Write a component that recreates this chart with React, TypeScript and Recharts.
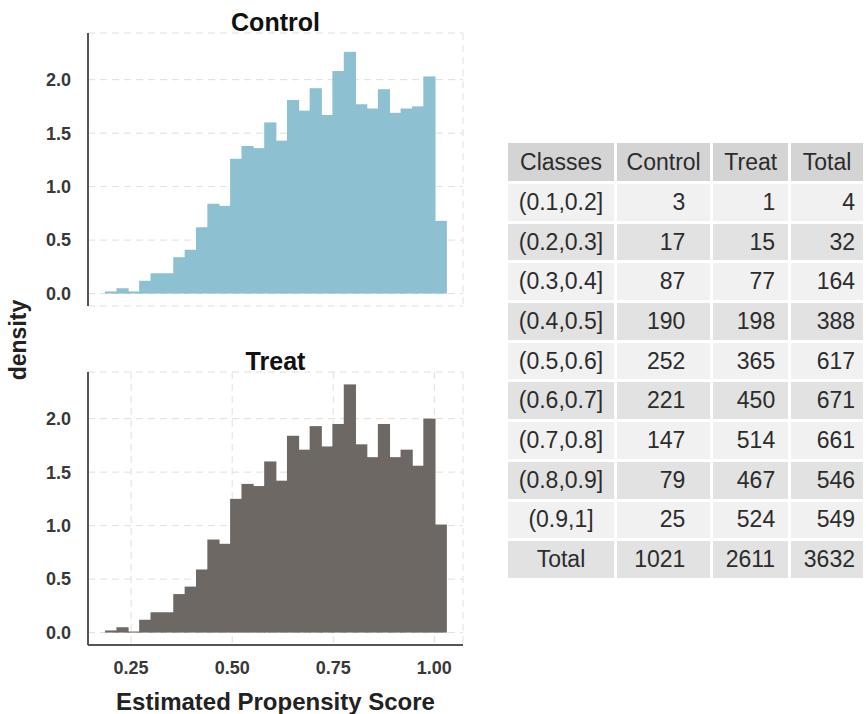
import React from "react";
import { BarChart, Bar, XAxis, YAxis, CartesianGrid } from "recharts";

// histogram bins (30 bins, midpoints on the propensity score scale)
const binMid = [
  0.1996, 0.2277, 0.2558, 0.2839, 0.312, 0.3402, 0.3683, 0.3964, 0.4245, 0.4526,
  0.4807, 0.5089, 0.537, 0.5651, 0.5932, 0.6213, 0.6495, 0.6776, 0.7057, 0.7338,
  0.7619, 0.7901, 0.8182, 0.8463, 0.8744, 0.9025, 0.9306, 0.9588, 0.9869, 1.015,
];

const controlDensity = [
  0.02, 0.05, 0.02, 0.12, 0.19, 0.19, 0.34, 0.41, 0.62, 0.84,
  0.82, 1.26, 1.38, 1.36, 1.6, 1.43, 1.81, 1.71, 1.92, 1.67,
  2.08, 2.26, 1.77, 1.73, 1.91, 1.69, 1.73, 1.75, 2.03, 0.68,
];

const treatDensity = [
  0.02, 0.05, 0.01, 0.12, 0.19, 0.19, 0.36, 0.43, 0.59, 0.87,
  0.83, 1.25, 1.39, 1.37, 1.6, 1.42, 1.84, 1.71, 1.93, 1.74,
  1.95, 2.32, 1.76, 1.64, 1.95, 1.64, 1.71, 1.56, 2.0, 1.01,
];

const xTicks = [0.25, 0.5, 0.75, 1.0];
const yTicks = [0, 0.5, 1.0, 1.5, 2.0];

// class table
const classes = [
  "(0.1,0.2]", "(0.2,0.3]", "(0.3,0.4]", "(0.4,0.5]", "(0.5,0.6]",
  "(0.6,0.7]", "(0.7,0.8]", "(0.8,0.9]", "(0.9,1]", "Total",
];
const controlCounts = [3, 17, 87, 190, 252, 221, 147, 79, 25, 1021];
const treatCounts = [1, 15, 77, 198, 365, 450, 514, 467, 524, 2611];
const totalCounts = [4, 32, 164, 388, 617, 671, 661, 546, 549, 3632];
const tableHeader = ["Classes", "Control", "Treat", "Total"];

const FONT = "'Liberation Sans', Arial, Helvetica, sans-serif";
const AXIS_TEXT = { fontSize: 18, fontWeight: 700, fill: "#383838", fontFamily: FONT };

// bars widened a little so neighbouring bins don't leave hairline seams
const solidBar = (fill: string) => (p: any) => (
  <rect
    x={p.x}
    y={p.y}
    width={Math.max(p.width + 1.2, 0)}
    height={Math.max(p.height, 0)}
    fill={fill}
  />
);

interface HistProps {
  values: number[];
  fill: string;
  height: number;
  top: number;
  showXAxis?: boolean;
}

function Histogram({ values, fill, height, top, showXAxis }: HistProps) {
  const data = binMid.map((x, i) => ({ x, density: values[i] }));
  return (
    <BarChart
      width={470}
      height={height}
      data={data}
      barCategoryGap={0}
      barGap={0}
      margin={{ top, right: 7, left: 0, bottom: showXAxis ? 0 : 4 }}
    >
      <CartesianGrid stroke="#e3dddd" strokeDasharray="7 5" />
      <XAxis
        dataKey="x"
        type="number"
        domain={[0.1433, 1.071]}
        allowDataOverflow
        ticks={xTicks}
        tickFormatter={(v: number) => v.toFixed(2)}
        height={showXAxis ? 35 : 0}
        tick={showXAxis ? AXIS_TEXT : false}
        fontSize={18}
        fontWeight={700}
        fontFamily={FONT}
        tickSize={0}
        tickMargin={16}
        axisLine={showXAxis ? { stroke: "#555", strokeWidth: 2 } : false}
      />
      <YAxis
        type="number"
        domain={[-0.116, 2.436]}
        allowDataOverflow
        ticks={yTicks}
        tickFormatter={(v: number) => v.toFixed(1)}
        width={88}
        tick={AXIS_TEXT}
        fontSize={18}
        fontWeight={700}
        fontFamily={FONT}
        tickSize={0}
        tickMargin={17}
        axisLine={{ stroke: "#555", strokeWidth: 2 }}
      />
      <Bar dataKey="density" fill={fill} shape={solidBar(fill)} isAnimationActive={false} />
    </BarChart>
  );
}

const cellBase: React.CSSProperties = {
  padding: 0,
  fontSize: 23,
  color: "#2c2c2c",
  fontFamily: FONT,
  height: 36.7,
};

const colWidths = [108, 95, 76, 73];
const numPad = [0, 25, 13, 8];

function CountsTable() {
  return (
    <table
      style={{
        position: "absolute",
        left: 505,
        top: 140,
        borderCollapse: "separate",
        borderSpacing: 3,
        tableLayout: "fixed",
      }}
    >
      <thead>
        <tr>
          {tableHeader.map((h, i) => (
            <th
              key={h}
              style={{
                ...cellBase,
                height: 38,
                width: colWidths[i],
                background: "#d4d4d4",
                fontWeight: 400,
                textAlign: "center",
              }}
            >
              {h}
            </th>
          ))}
        </tr>
      </thead>
      <tbody>
        {classes.map((c, r) => {
          const bg = r % 2 === 0 ? "#f1f1f1" : "#e2e2e2";
          const nums = [controlCounts[r], treatCounts[r], totalCounts[r]];
          return (
            <tr key={c}>
              <td style={{ ...cellBase, background: bg, textAlign: "center" }}>{c}</td>
              {nums.map((n, j) => (
                <td
                  key={j}
                  style={{
                    ...cellBase,
                    background: bg,
                    textAlign: "right",
                    paddingRight: numPad[j + 1],
                  }}
                >
                  {n}
                </td>
              ))}
            </tr>
          );
        })}
      </tbody>
    </table>
  );
}

const titleStyle: React.CSSProperties = {
  position: "absolute",
  left: 88,
  width: 375,
  textAlign: "center",
  fontFamily: FONT,
  fontWeight: 700,
  fontSize: 25,
  color: "#111",
  lineHeight: "25px",
};

export default function App() {
  return (
    <div
      style={{
        position: "absolute",
        left: 0,
        top: 0,
        width: 866,
        height: 714,
        overflow: "hidden",
        background: "#fff",
      }}
    >
      <div style={{ ...titleStyle, top: 10 }}>Control</div>
      <div style={{ position: "absolute", left: 0, top: 0 }}>
        <Histogram values={controlDensity} fill="#8dc1d1" height={310} top={33} />
      </div>

      <div style={{ ...titleStyle, top: 349 }}>Treat</div>
      <div style={{ position: "absolute", left: 0, top: 340 }}>
        <Histogram values={treatDensity} fill="#6d6863" height={340} top={32} showXAxis />
      </div>

      <div
        style={{
          position: "absolute",
          left: 88,
          width: 375,
          top: 690,
          textAlign: "center",
          fontFamily: FONT,
          fontWeight: 700,
          fontSize: 24,
          color: "#222",
          lineHeight: "24px",
          whiteSpace: "nowrap",
        }}
      >
        Estimated Propensity Score
      </div>

      <div
        style={{
          position: "absolute",
          left: 18,
          top: 340,
          transform: "translate(-50%, -50%) rotate(-90deg)",
          fontFamily: FONT,
          fontWeight: 700,
          fontSize: 23,
          color: "#222",
          whiteSpace: "nowrap",
        }}
      >
        density
      </div>

      <CountsTable />
    </div>
  );
}
